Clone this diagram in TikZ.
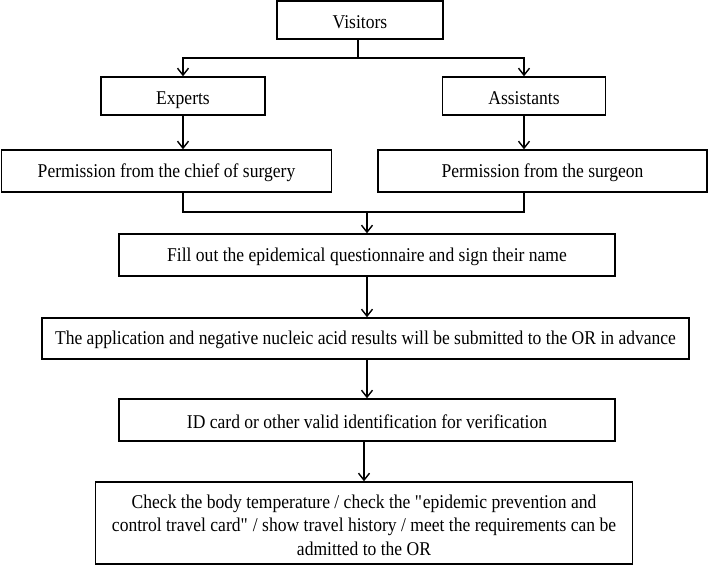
\documentclass[tikz,border=0pt]{standalone}
\usepackage{fontspec}
\setmainfont[FakeStretch=0.9]{Liberation Serif}
\usetikzlibrary{arrows.meta}
\begin{document}
\begin{tikzpicture}[x=1pt,y=-1pt,
  box/.style={draw,line width=1.4pt,rectangle,inner sep=0pt,align=center,
    font=\fontsize{19.5}{23.5}\selectfont},
  onebox/.style={box,text height=17pt},
  conn/.style={line width=1.4pt},
  arr/.style={line width=1.4pt,-{Straight Barb[length=7pt,width=11pt,line width=1.4pt]}}]
\useasboundingbox (0,0) rectangle (709,566);
\node[onebox,minimum width=166pt,minimum height=38pt] (v) at (360,20) {Visitors};
\node[onebox,text depth=0pt,minimum width=164pt,minimum height=38pt] (e) at (183,96) {Experts};
\node[onebox,minimum width=163pt,minimum height=38pt] (a) at (524,96) {Assistants};
\node[onebox,minimum width=330pt,minimum height=42pt] (c) at (166.5,171) {Permission from the chief of surgery};
\node[onebox,minimum width=329pt,minimum height=42pt] (s) at (542.5,171) {Permission from the surgeon};
\node[onebox,minimum width=496pt,minimum height=42pt] (f) at (367,255) {Fill out the epidemical questionnaire and sign their name};
\node[onebox,minimum width=647pt,minimum height=41pt] (ap) at (365.5,338.5) {The application and negative nucleic acid results will be submitted to the OR in advance};
\node[onebox,minimum width=496pt,minimum height=42pt] (id) at (367,420) {ID card or other valid identification for verification};
\node[box,minimum width=537pt,minimum height=82pt] (ch) at (364,523) {\rule{0pt}{18pt}Check the body temperature / check the \textquotedbl epidemic prevention and\\control travel card\textquotedbl{} / show travel history / meet the requirements can be\\admitted to the OR};
\coordinate (vj) at (358,58);
\coordinate (j) at (367,212);
\draw[conn] (v.south -| vj) -- (vj);
\draw[arr] (vj) -| (e.north);
\draw[arr] (vj) -| (a.north);
\draw[arr] (e.south) -- (e.south |- c.north);
\draw[arr] (a.south) -- (a.south |- s.north);
\draw[conn] (c.south -| e.south) |- (j) -| (s.south -| a.south);
\draw[arr] (j) -- (f.north);
\draw[arr] (f.south) -- (f.south |- ap.north);
\draw[arr] (ap.south -| f.south) -- (f.south |- id.north);
\draw[arr] (id.south -| ch.north) -- (ch.north);
\end{tikzpicture}
\end{document}
